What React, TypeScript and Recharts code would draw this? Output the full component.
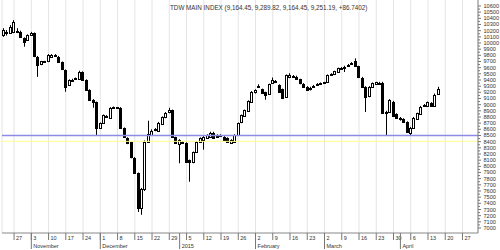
import { ComposedChart, Bar, XAxis, YAxis, CartesianGrid, ReferenceLine } from 'recharts';

// daily OHLC, 22 Oct 2014 .. 16 Apr 2015
const opens = [
  10130, 10180, 10160, 10180, 10200, 10180, 10080, 10050, 10140, 10160,
  9780, 9650, 9700, 9700, 9780, 9800, 9780, 9690, 9560, 9320,
  9395, 9420, 9410, 9530, 9400, 9240, 9080, 9045, 8620, 8700,
  8800, 8790, 8945, 8955, 8950, 8620, 8460, 8390, 8130, 7890,
  7330, 7630, 8400, 8520, 8580, 8570, 8690, 8790, 8870, 8910,
  8470, 8350, 8400, 8380, 8100, 8060, 8235, 8400, 8430, 8460,
  8480, 8540, 8510, 8505, 8480, 8460, 8380, 8400, 8510, 8710,
  8820, 8890, 9040, 9190, 9290, 9250, 9200, 9170, 9350, 9380,
  9320, 9250, 9120, 9440, 9460, 9450, 9410, 9340, 9290, 9260,
  9300, 9330, 9335, 9350, 9360, 9480, 9490, 9530, 9590, 9600,
  9630, 9660, 9700, 9620, 9440, 9290, 9130, 9290, 9330, 9350,
  9350, 8865, 8880, 9050, 8850, 8780, 8770, 8720, 8545, 8630,
  8770, 8860, 8990, 8980, 9030, 8980, 9164.45,
];
const highs = [
  10240, 10210, 10290, 10370, 10240, 10200, 10090, 10140, 10180, 10170,
  9790, 9710, 9710, 9820, 9820, 9820, 9790, 9700, 9570, 9410,
  9420, 9440, 9550, 9540, 9410, 9250, 9090, 9050, 8710, 8840,
  8830, 8960, 8970, 8960, 8960, 8630, 8470, 8400, 8150, 7900,
  7650, 8420, 8740, 8600, 8620, 8720, 8810, 8880, 8950, 8920,
  8480, 8440, 8410, 8390, 8110, 8240, 8410, 8470, 8490, 8520,
  8560, 8560, 8520, 8520, 8490, 8470, 8440, 8520, 8710, 8840,
  8920, 9070, 9220, 9250, 9330, 9260, 9210, 9340, 9440, 9400,
  9330, 9260, 9490, 9510, 9480, 9470, 9420, 9350, 9300, 9290,
  9320, 9350, 9360, 9370, 9490, 9510, 9550, 9600, 9610, 9630,
  9660, 9690, 9750, 9630, 9450, 9300, 9300, 9360, 9370, 9370,
  9370, 8900, 9090, 9060, 8860, 8800, 8780, 8730, 8640, 8800,
  8870, 8980, 9010, 9050, 9040, 9180, 9289.82,
];
const lows = [
  10100, 10120, 10150, 10160, 10160, 10090, 9940, 10040, 10130, 9770,
  9450, 9640, 9680, 9690, 9770, 9790, 9690, 9560, 9210, 9310,
  9390, 9410, 9400, 9390, 9230, 9070, 8950, 8494, 8610, 8690,
  8790, 8780, 8940, 8930, 8620, 8460, 8360, 8130, 7880, 7260,
  7214, 7600, 8390, 8510, 8570, 8560, 8680, 8780, 8860, 8470,
  8370, 8050, 8370, 8060, 7750, 8050, 8220, 8390, 8270, 8450,
  8470, 8450, 8470, 8495, 8420, 8390, 8370, 8390, 8500, 8700,
  8810, 8880, 9030, 9180, 9280, 9180, 9080, 9160, 9340, 9360,
  9200, 9090, 9110, 9430, 9440, 9400, 9330, 9280, 9230, 9230,
  9290, 9320, 9325, 9340, 9350, 9470, 9480, 9520, 9580, 9530,
  9620, 9650, 9610, 9430, 9280, 8880, 9120, 9280, 9320, 9340,
  8860, 8494, 8870, 8810, 8770, 8740, 8710, 8550, 8494, 8620,
  8760, 8850, 8980, 8970, 8970, 8970, 9164.45,
];
const closes = [
  10210, 10170, 10260, 10340, 10180, 10100, 10020, 10130, 10165, 9780,
  9650, 9700, 9690, 9800, 9805, 9802, 9700, 9570, 9290, 9400,
  9405, 9430, 9530, 9400, 9240, 9080, 9045, 8620, 8700, 8830,
  8810, 8950, 8955, 8948, 8630, 8470, 8380, 8140, 7890, 7330,
  7630, 8400, 8530, 8580, 8600, 8700, 8800, 8860, 8910, 8480,
  8380, 8420, 8385, 8070, 8060, 8230, 8400, 8460, 8480, 8510,
  8540, 8460, 8480, 8510, 8430, 8400, 8430, 8510, 8700, 8830,
  8910, 9060, 9210, 9230, 9310, 9190, 9150, 9330, 9400, 9370,
  9210, 9110, 9480, 9480, 9455, 9410, 9340, 9290, 9240, 9270,
  9310, 9340, 9345, 9360, 9480, 9490, 9540, 9590, 9595, 9610,
  9645, 9680, 9620, 9440, 9290, 9130, 9280, 9350, 9360, 9355,
  8870, 8885, 9077, 8820, 8780, 8770, 8720, 8560, 8620, 8790,
  8860, 8970, 9000, 9040, 8980, 9164.45, 9251.19,
];

const weekTicks = [
  '2014-10-27', '2014-11-03', '2014-11-10', '2014-11-17', '2014-11-24',
  '2014-12-01', '2014-12-08', '2014-12-15', '2014-12-22', '2014-12-29',
  '2015-01-05', '2015-01-12', '2015-01-19', '2015-01-26', '2015-02-02',
  '2015-02-09', '2015-02-16', '2015-02-23', '2015-03-02', '2015-03-09',
  '2015-03-16', '2015-03-23', '2015-03-30', '2015-04-06', '2015-04-13',
  '2015-04-20', '2015-04-27',
];
const monthTicks = ['2014-11-03', '2014-12-01', '2015-01-01', '2015-02-02', '2015-03-02', '2015-04-01'];
const monthLabels = ['November', 'December', '2015', 'February', 'March', 'April'];

const title = 'TDW MAIN INDEX (9,164.45, 9,289.82, 9,164.45, 9,251.19, +86.7402)';
const supportLevel = 8500;
const lowerLevel = 8405;

// weekday slots from 22 Oct 2014 to 1 May 2015 (axis runs past the last candle)
const dates: string[] = [];
for (let t = Date.UTC(2014, 9, 22); t <= Date.UTC(2015, 4, 1); t += 86400000) {
  const wd = new Date(t).getUTCDay();
  if (wd !== 0 && wd !== 6) dates.push(new Date(t).toISOString().slice(0, 10));
}

const rows = dates.map((d, i) =>
  i < opens.length
    ? { d, o: opens[i], h: highs[i], l: lows[i], c: closes[i], range: [lows[i], highs[i]] }
    : { d }
);

const yTicks: number[] = [];
for (let v = 7000; v <= 10600; v += 50) yTicks.push(v);

const FONT = '"Liberation Sans", Arial, sans-serif';

const Candle = (props: any) => {
  const { x, y, width, height, payload } = props;
  if (!payload || payload.o == null) return null;
  const { o, h, l, c } = payload;
  const top = height < 0 ? y + height : y;
  const hh = Math.abs(height);
  const k = h === l ? 0 : hh / (h - l);
  const cx = Math.floor(x + width / 2) + 0.5;
  const yo = top + (h - o) * k;
  const yc = top + (h - c) * k;
  const bTop = Math.round(Math.min(yo, yc)) + 0.5;
  const bH = Math.max(Math.round(Math.abs(yc - yo)), 1);
  const up = c >= o;
  return (
    <g>
      <line x1={cx} x2={cx} y1={top} y2={top + hh} stroke="#000" strokeWidth={1} />
      <rect x={cx - 1} y={bTop} width={2} height={bH} fill={up ? '#fff' : '#000'} stroke="#000" strokeWidth={1} />
    </g>
  );
};

const WeekTick = ({ x, y, payload }: any) => (
  <g>
    <line x1={x} x2={x} y1={y} y2={y + 7} stroke="#777" />
    <text x={x + 2} y={y + 6.5} fontSize={5.5} fill="#333" fontFamily={FONT}>
      {Number(String(payload.value).slice(8))}
    </text>
  </g>
);

const MonthTick = ({ x, y, payload }: any) => {
  const idx = monthTicks.indexOf(payload.value);
  return (
    <g>
      <line x1={x} x2={x} y1={y - 8} y2={y + 8} stroke="#777" />
      <text x={x + 2} y={y + 6.5} fontSize={5.5} fill="#333" fontFamily={FONT}>
        {monthLabels[idx]}
      </text>
    </g>
  );
};

const PriceTick = ({ x, y, payload }: any) => {
  const v = payload.value;
  const major = v % 100 === 0;
  return (
    <g>
      <line x1={x} x2={x + (major ? 3 : 2)} y1={y} y2={y} stroke="#777" />
      {major && (
        <text x={x + 5.5} y={y + 2} fontSize={5.6} fill="#333" fontFamily={FONT}>
          {v}
        </text>
      )}
    </g>
  );
};

export default function App() {
  return (
    <div style={{ position: 'absolute', left: 0, top: 0, width: 500, height: 250, background: '#fff' }}>
      <ComposedChart width={500} height={250} data={rows} margin={{ top: 0, right: 0, bottom: 0, left: 2 }}>
        <CartesianGrid vertical horizontal={false} stroke="#e4e4e4" />
        <XAxis
          dataKey="d"
          ticks={weekTicks}
          interval={0}
          height={8}
          tickSize={0}
          tickMargin={0}
          tickLine={false}
          axisLine={{ stroke: '#888' }}
          tick={<WeekTick />}
        />
        <XAxis
          xAxisId="m"
          dataKey="d"
          ticks={monthTicks}
          interval={0}
          height={9}
          tickSize={0}
          tickMargin={0}
          tickLine={false}
          axisLine={false}
          tick={<MonthTick />}
        />
        <YAxis
          orientation="right"
          type="number"
          domain={[6919, 10697]}
          ticks={yTicks}
          interval={0}
          width={22}
          tickSize={0}
          tickMargin={0}
          tickLine={false}
          axisLine={{ stroke: '#888' }}
          tick={<PriceTick />}
        />
        <ReferenceLine y={lowerLevel} stroke="#ffff8c" strokeWidth={1} />
        <ReferenceLine y={supportLevel} stroke="#8c8ce6" strokeWidth={1.5} />
        <Bar dataKey="range" barSize={3} shape={<Candle />} isAnimationActive={false} />
      </ComposedChart>
      <div
        style={{
          position: 'absolute',
          left: 170,
          top: 4,
          fontSize: 6.3,
          color: '#333',
          fontFamily: FONT,
          whiteSpace: 'nowrap',
        }}
      >
        {title}
      </div>
    </div>
  );
}
